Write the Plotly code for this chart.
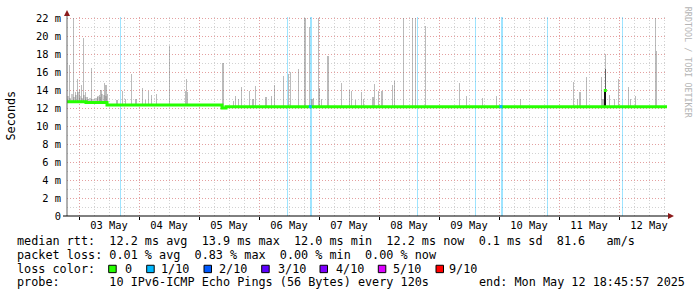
import plotly.graph_objects as go
import pandas as pd
import numpy as np

# ---------------- data ----------------
range_start = "2025-05-02 19:12"
range_end = "2025-05-12 19:12"

day_label_dates = ["2025-05-03 12:00", "2025-05-04 12:00", "2025-05-05 12:00", "2025-05-06 12:00",
                   "2025-05-07 12:00", "2025-05-08 12:00", "2025-05-09 12:00", "2025-05-10 12:00",
                   "2025-05-11 12:00", "2025-05-12 12:00"]
day_labels = ["03 May", "04 May", "05 May", "06 May", "07 May", "08 May", "09 May", "10 May", "11 May", "12 May"]

y_tick_vals = [0, 2, 4, 6, 8, 10, 12, 14, 16, 18, 20, 22]
y_tick_text = ["0", "2 m", "4 m", "6 m", "8 m", "10 m", "12 m", "14 m", "16 m", "18 m", "20 m", "22 m"]

# median rtt (ms), step series
median_times = ["2025-05-02 19:12", "2025-05-03 02:48", "2025-05-03 11:12", "2025-05-05 09:12",
                "2025-05-05 10:48", "2025-05-12 19:12"]
median_vals = [12.75, 12.65, 12.38, 12.05, 12.2, 12.2]

# dense smoke at the start (top of smoke, ms)
dense_times = ["2025-05-02 19:36", "2025-05-02 20:24", "2025-05-02 21:12", "2025-05-02 22:00",
               "2025-05-02 22:48", "2025-05-02 23:36", "2025-05-03 00:24", "2025-05-03 01:12",
               "2025-05-03 02:00", "2025-05-03 02:48", "2025-05-03 03:36", "2025-05-03 04:24",
               "2025-05-03 05:12", "2025-05-03 06:00", "2025-05-03 06:48", "2025-05-03 07:36",
               "2025-05-03 08:24", "2025-05-03 09:12", "2025-05-03 10:00", "2025-05-03 10:48"]
dense_tops = [13.4, 13.2, 13.6, 13.3, 13.5, 13.8, 13.4, 13.2, 13.5, 13.3,
              13.1, 13.2, 13.0, 13.1, 13.2, 13.4, 13.3, 13.6, 13.5, 13.4]

# smoke spikes (top of smoke, ms)
spike_times = ["2025-05-02 20:07", "2025-05-02 21:53", "2025-05-02 22:41", "2025-05-02 23:29",
               "2025-05-03 00:07", "2025-05-03 00:55", "2025-05-03 01:53", "2025-05-03 02:31",
               "2025-05-03 03:29", "2025-05-03 04:55", "2025-05-03 07:19", "2025-05-03 08:17",
               "2025-05-03 08:48", "2025-05-03 10:07", "2025-05-03 10:48", "2025-05-03 11:19",
               "2025-05-03 15:12", "2025-05-03 17:29", "2025-05-03 18:31", "2025-05-03 20:55",
               "2025-05-03 22:48", "2025-05-04 01:19", "2025-05-04 02:31", "2025-05-04 03:53",
               "2025-05-04 04:55", "2025-05-04 06:55", "2025-05-04 12:17", "2025-05-04 18:31",
               "2025-05-04 19:05", "2025-05-04 19:19", "2025-05-05 09:36", "2025-05-05 13:43",
               "2025-05-05 14:31", "2025-05-05 15:53", "2025-05-05 17:05", "2025-05-05 20:07",
               "2025-05-05 21:36", "2025-05-05 22:31", "2025-05-06 02:48", "2025-05-06 04:55",
               "2025-05-06 06:07", "2025-05-06 09:43", "2025-05-06 11:53", "2025-05-06 12:41",
               "2025-05-06 15:53", "2025-05-06 18:24", "2025-05-06 20:07", "2025-05-06 21:12",
               "2025-05-06 21:53", "2025-05-06 23:43", "2025-05-07 00:07", "2025-05-07 00:55",
               "2025-05-07 03:36", "2025-05-07 08:55", "2025-05-07 12:07", "2025-05-07 12:55",
               "2025-05-07 14:31", "2025-05-07 16:55", "2025-05-07 17:53", "2025-05-07 21:36",
               "2025-05-07 22:17", "2025-05-07 23:53", "2025-05-08 01:12", "2025-05-08 05:19",
               "2025-05-08 06:17", "2025-05-08 09:43", "2025-05-08 13:19", "2025-05-08 14:41",
               "2025-05-08 18:31", "2025-05-09 08:07", "2025-05-09 11:05", "2025-05-09 17:29",
               "2025-05-09 22:55", "2025-05-10 08:31", "2025-05-11 05:43", "2025-05-11 07:29",
               "2025-05-11 08:24", "2025-05-11 11:05", "2025-05-11 16:55", "2025-05-11 17:36",
               "2025-05-11 18:31", "2025-05-11 20:07", "2025-05-11 22:07", "2025-05-11 23:43",
               "2025-05-12 03:53", "2025-05-12 04:31", "2025-05-12 06:31", "2025-05-12 14:31",
               "2025-05-12 14:55"]
spike_tops = [16.8, 22.1, 13.8, 15.3, 14.1, 14.6, 19.9, 13.8, 13.3, 16.5, 13.3, 13.5,
              14.1, 14.8, 14.6, 13.6, 12.9, 13.9, 13.0, 15.8, 13.1, 14.3, 12.9, 14.0,
              13.5, 13.6, 19.0, 14.0, 15.3, 13.8, 17.1, 12.8, 13.4, 13.0, 14.4, 14.0,
              13.0, 14.5, 13.3, 13.4, 14.6, 15.6, 15.8, 16.1, 16.4, 22.1, 21.1, 13.1,
              13.2, 22.1, 14.3, 13.1, 17.8, 14.8, 14.1, 14.0, 12.9, 13.8, 13.0, 13.3,
              14.7, 14.0, 14.0, 14.6, 15.1, 22.1, 22.1, 22.1, 21.2, 14.8, 13.4, 13.2,
              13.4, 13.0, 15.0, 13.0, 13.8, 15.5, 15.5, 13.1, 18.1, 13.5, 13.0, 15.3,
              14.4, 13.0, 13.4, 22.1, 18.4]

# darker smoke / outlier step on 11 May
dark_time = ["2025-05-11 18:31"]
dark_top = [16.4]
outlier_median = [14.0]

# packet loss events (1/10 lost), duration in minutes
loss_times = ["2025-05-03 16:41", "2025-05-06 11:29", "2025-05-06 20:31", "2025-05-08 15:19",
              "2025-05-09 14:31", "2025-05-10 00:48", "2025-05-10 19:19", "2025-05-12 01:19"]
loss_minutes = [24, 24, 48, 24, 24, 48, 24, 24]

loss_legend_labels = ["0", "1/10", "2/10", "3/10", "4/10", "5/10", "9/10"]
loss_legend_colors = ["#26ff00", "#00b8ff", "#0059ff", "#5e00ff", "#7e00ff", "#dd00ff", "#ff0000"]

# ---------------- layout geometry ----------------
W, H = 697, 297
L, R, T, B = 67, 667, 14, 216
Y_TOP = 22.2
MONO = "DejaVu Sans Mono"


def px(x):
    return (x - L) / (R - L)


def py(y):
    return (B - y) / (B - T)


med_s = pd.Series(median_vals, index=pd.to_datetime(median_times))


def median_at(ts):
    ts = pd.to_datetime(ts)
    idx = med_s.index.searchsorted(ts, side="right") - 1
    return med_s.iloc[np.clip(idx, 0, len(med_s) - 1)].values


step_ms = 24 * 60 * 1000  # one pixel

fig = go.Figure()

# loss bars (full height)
fig.add_trace(go.Bar(
    x=pd.to_datetime(loss_times) + pd.to_timedelta(np.array(loss_minutes) / 2 - 12, unit="m"),
    y=[Y_TOP] * len(loss_times), base=[0] * len(loss_times),
    width=[m * 60 * 1000 for m in loss_minutes],
    marker=dict(color="rgba(0,184,255,0.38)", line=dict(width=0)),
    hoverinfo="skip", showlegend=False))

# dense smoke
d_base = median_at(dense_times)
fig.add_trace(go.Bar(
    x=pd.to_datetime(dense_times), y=np.array(dense_tops) - d_base, base=d_base,
    width=2 * step_ms,
    marker=dict(color="rgba(120,120,120,0.38)", line=dict(width=0)),
    hoverinfo="skip", showlegend=False))

# smoke spikes
s_base = median_at(spike_times)
fig.add_trace(go.Bar(
    x=pd.to_datetime(spike_times), y=np.array(spike_tops) - s_base, base=s_base,
    width=step_ms * 1.1,
    marker=dict(color="rgba(120,120,120,0.5)", line=dict(width=0)),
    hoverinfo="skip", showlegend=False))

# dark smoke and outlier
k_base = median_at(dark_time)
fig.add_trace(go.Bar(
    x=pd.to_datetime(dark_time), y=np.array(dark_top) - k_base, base=k_base,
    width=step_ms * 1.2,
    marker=dict(color="rgba(70,70,70,0.75)", line=dict(width=0)),
    hoverinfo="skip", showlegend=False))
fig.add_trace(go.Bar(
    x=pd.to_datetime(dark_time), y=np.array(outlier_median) - k_base, base=k_base,
    width=step_ms * 1.2,
    marker=dict(color="#111111", line=dict(width=0)),
    hoverinfo="skip", showlegend=False))

# median line
fig.add_trace(go.Scatter(
    x=pd.to_datetime(median_times), y=median_vals, mode="lines",
    line=dict(color="#26ff00", width=3, shape="hv"),
    hoverinfo="skip", showlegend=False))

# loss-coloured median points
big = [t for t, m in zip(loss_times, loss_minutes) if m > 24]
fig.add_trace(go.Scatter(
    x=pd.to_datetime(big), y=median_at(big), mode="markers",
    marker=dict(color="#00b8ff", size=3, symbol="square", line=dict(width=0)),
    hoverinfo="skip", showlegend=False))
fig.add_trace(go.Scatter(
    x=pd.to_datetime(dark_time), y=outlier_median, mode="markers",
    marker=dict(color="#26ff00", size=3, symbol="square", line=dict(width=0)),
    hoverinfo="skip", showlegend=False))

# dummy trace for label axis
fig.add_trace(go.Scatter(x=pd.to_datetime(day_label_dates), y=[None] * len(day_label_dates),
                         xaxis="x2", mode="markers", hoverinfo="skip", showlegend=False))

major_red = "#e4a0a0"
minor_gray = "#d2d2d2"

fig.update_layout(
    width=W, height=H, autosize=False,
    margin=dict(l=L, r=W - R, t=T, b=H - B, pad=0),
    paper_bgcolor="white", plot_bgcolor="white",
    barmode="overlay", bargap=0,
    showlegend=False,
    font=dict(family=MONO, color="black"),
    xaxis=dict(
        type="date", range=[range_start, range_end],
        tickmode="linear", tick0="2025-05-03", dtick=86400000,
        showticklabels=False, ticks="outside", ticklen=3, tickcolor="black",
        showgrid=True, gridcolor=major_red, griddash="1px,2px", gridwidth=1,
        minor=dict(dtick=21600000, tick0="2025-05-03", showgrid=True,
                   gridcolor=minor_gray, griddash="1px,2px", gridwidth=1),
        zeroline=False, showline=False, fixedrange=True),
    xaxis2=dict(
        type="date", range=[range_start, range_end], overlaying="x", anchor="y", side="bottom",
        tickmode="array", tickvals=day_label_dates, ticktext=day_labels,
        tickfont=dict(family=MONO, size=10.4, color="black"),
        ticks="", showgrid=False, zeroline=False, showline=False, ticklabelstandoff=2),
    yaxis=dict(
        range=[0, Y_TOP], tickmode="array", tickvals=y_tick_vals, ticktext=y_tick_text,
        tickfont=dict(family=MONO, size=10.4, color="black"),
        ticks="", ticklabelstandoff=5,
        showgrid=True, gridcolor=major_red, griddash="1px,2px", gridwidth=1,
        minor=dict(dtick=1, showgrid=True, gridcolor=minor_gray, griddash="1px,2px", gridwidth=1),
        zeroline=False, showline=False, fixedrange=True),
)

shapes = []


def path(points):
    return "M " + " L ".join(f"{px(a):.5f},{py(b):.5f}" for a, b in points) + " Z"


# axes lines and arrows
shapes.append(dict(type="line", xref="paper", yref="paper", x0=px(67), x1=px(67), y0=py(216), y1=py(11),
                   line=dict(color="#606060", width=1), layer="above"))
shapes.append(dict(type="line", xref="paper", yref="paper", x0=px(63), x1=px(670), y0=py(216), y1=py(216),
                   line=dict(color="black", width=1), layer="above"))
shapes.append(dict(type="path", xref="paper", yref="paper", path=path([(64, 13), (70, 13), (67, 7)]),
                   fillcolor="#8b1a1a", line=dict(width=0), layer="above"))
shapes.append(dict(type="path", xref="paper", yref="paper", path=path([(668, 213), (668, 219), (674, 216)]),
                   fillcolor="#8b1a1a", line=dict(width=0), layer="above"))

annotations = []


def txt(x, y, s, size=11.8, color="black", anchor="left", angle=0):
    annotations.append(dict(x=px(x), y=py(y), xref="paper", yref="paper", text=s.replace(" ", "\u00a0"),
                            showarrow=False, xanchor=anchor, yanchor="middle", textangle=angle,
                            font=dict(family=MONO, size=size, color=color)))


txt(15, 241.7, "median rtt:  12.2 ms avg  13.9 ms max  12.0 ms min  12.2 ms now  0.1 ms sd  81.6   am/s")
txt(15, 255.5, "packet loss: 0.01 % avg  0.83 % max  0.00 % min  0.00 % now")
txt(15, 269.5, "loss color:")
txt(15, 283.5, "probe:       10 IPv6-ICMP Echo Pings (56 Bytes) every 120s")
txt(477, 283.5, "end: Mon May 12 18:45:57 2025")

sq_x = [108.7, 146.7, 204, 261.7, 320, 378.3, 436]
lab_x = [124, 160, 218.3, 276.7, 335, 391.7, 448.3]
for sx, lx, lab, col in zip(sq_x, lab_x, loss_legend_labels, loss_legend_colors):
    shapes.append(dict(type="rect", xref="paper", yref="paper", x0=px(sx), x1=px(sx + 7.5),
                       y0=py(273.5), y1=py(266), fillcolor=col, line=dict(color="black", width=1),
                       layer="above"))
    txt(lx - 1, 269.5, lab)

txt(11, 114, "Seconds", angle=-90, anchor="center")
txt(687.5, 60, "RRDTOOL / TOBI OETIKER", size=8.4, color="#b4b4b4", anchor="center", angle=90)

fig.update_layout(shapes=shapes, annotations=annotations)

fig.write_html("out.html")
